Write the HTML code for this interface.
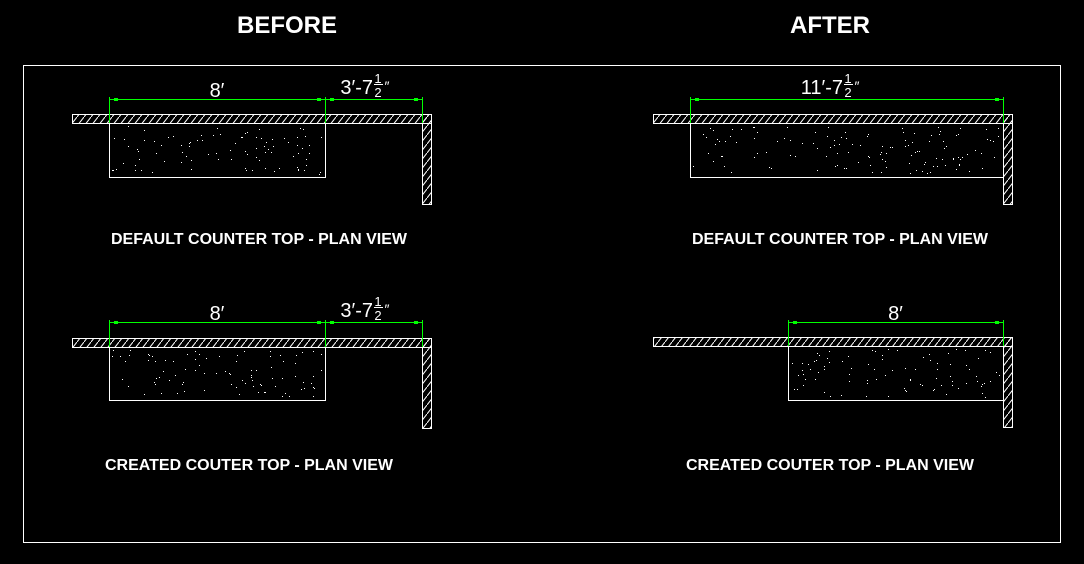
<!DOCTYPE html>
<html><head><meta charset="utf-8"><style>
html,body{margin:0;padding:0;background:#000;width:1084px;height:564px;overflow:hidden}
svg{display:block}
.t{font-family:"Liberation Sans",sans-serif;fill:#fff;font-weight:bold;text-anchor:middle}
.d{font-family:"Liberation Sans",sans-serif;fill:#fff;font-size:20px}
</style></head><body>
<svg id="s" width="1084" height="564" viewBox="0 0 1084 564" xmlns="http://www.w3.org/2000/svg">
<defs>
<pattern id="h" patternUnits="userSpaceOnUse" width="7" height="9">
<line x1="0" y1="9" x2="7" y2="0" stroke="#fff" stroke-width="1"/>
</pattern>
</defs>
<rect x="23.5" y="65.5" width="1037" height="477" fill="none" stroke="#fff"/>
<text class="t" x="287" y="33" font-size="24">BEFORE</text>
<text class="t" x="830" y="33" font-size="24">AFTER</text>
<text class="t" x="259" y="244" font-size="16">DEFAULT COUNTER TOP - PLAN VIEW</text>
<text class="t" x="840" y="244" font-size="16">DEFAULT COUNTER TOP - PLAN VIEW</text>
<text class="t" x="249" y="470" font-size="16">CREATED COUTER TOP - PLAN VIEW</text>
<text class="t" x="830" y="470" font-size="16">CREATED COUTER TOP - PLAN VIEW</text>
<g id="g" fill="none" stroke="#fff" stroke-width="1"></g>
</svg>
<script>
var g=document.getElementById('g'),NS="http://www.w3.org/2000/svg";
function el(t,a,p){var e=document.createElementNS(NS,t);for(var k in a)e.setAttribute(k,a[k]);(p||g).appendChild(e);return e;}
function wall(x1,x2,y,vb){
 el('rect',{x:x1+.5,y:y+.5,width:x2-x1,height:9,fill:'url(#h)'});
 el('rect',{x:x2-9+.5,y:y+.5,width:9,height:vb-y,fill:'url(#h)'});
}
var seed=7;function r(){seed=(seed*16807)%2147483647;return seed/2147483647;}
function counter(x1,x2,y1,y2){
 el('rect',{x:x1+.5,y:y1+.5,width:x2-x1,height:y2-y1,fill:'#000'});
 var n=Math.round((x2-x1)*(y2-y1)/130);
 for(var i=0;i<n;i++)el('rect',{x:Math.round(x1+3+r()*(x2-x1-6)),y:Math.round(y1+3+r()*(y2-y1-6)),width:1,height:1,fill:'#fff',stroke:'none'});
}
function txt(x,y,s,anchor,size){var t=el('text',{x:x,y:y,'class':'d',stroke:'none',style:'text-anchor:'+anchor+(size?';font-size:'+size+'px':'')});t.textContent=s;return t;}
function dim(x1,x2,y,yb,s){
 el('line',{x1:x1,y1:y+.5,x2:x2,y2:y+.5,stroke:'#0f0'});
 el('line',{x1:x1+.5,y1:y-2,x2:x1+.5,y2:yb,stroke:'#0f0'});
 el('line',{x1:x2+.5,y1:y-2,x2:x2+.5,y2:yb,stroke:'#0f0'});
 el('rect',{x:x1+5,y:y-1,width:4,height:3,fill:'#0f0',stroke:'none'});
 el('rect',{x:x2-8,y:y-1,width:4,height:3,fill:'#0f0',stroke:'none'});
 if(s)txt((x1+x2)/2,y-2,s,'middle');
}
function frac(x,y,pre){
 txt(x,y,pre,'end');
 txt(x+5,y-11,'1','middle',13);
 el('line',{x1:x+1,y1:y-9.5,x2:x+10,y2:y-9.5});
 txt(x+5,y+3,'2','middle',13);
 txt(x+14,y-3,'″','middle',14);
}
counter(109,325,123,177);wall(72,431,114,204);
dim(109,325,99,123,'8′');dim(325,422,99,123,'');frac(373,94,'3′-7');
counter(109,325,347,400);wall(72,431,338,428);
dim(109,325,322,347,'8′');dim(325,422,322,347,'');frac(373,317,'3′-7');
counter(690,1003,123,177);wall(653,1012,114,204);
dim(690,1003,99,123,'');frac(843,94,'11′-7');
counter(788,1003,346,400);wall(653,1012,337,427);
dim(788,1003,322,346,'8′');
</script>
</body></html>
